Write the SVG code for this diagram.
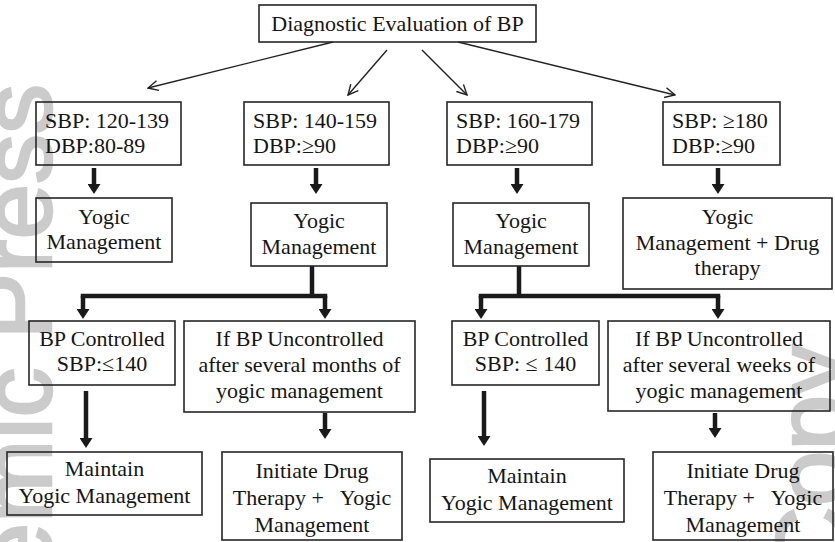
<svg xmlns="http://www.w3.org/2000/svg" width="835" height="542" viewBox="0 0 835 542">
<style>
.box{fill:none;stroke:#262626;stroke-width:1.6}
.t{font-size:22px;fill:#151515}
.c{text-anchor:middle}
.pre{white-space:pre}
.thin{stroke:#222;stroke-width:1.4;fill:none;marker-end:url(#open)}
.heavy{stroke:#1a1a1a;stroke-width:4.5;fill:none}
.arr{marker-end:url(#head)}
.wm{font-size:100px;fill:#cbcbcb;stroke:#cbcbcb;stroke-width:2.5}
</style>
<defs>
<marker id="open" viewBox="0 0 12 12" refX="11" refY="6" markerWidth="12" markerHeight="12" markerUnits="userSpaceOnUse" orient="auto">
<path d="M1,1 L11,6 L1,11" fill="none" stroke="#222" stroke-width="1.4"/>
</marker>
<marker id="head" viewBox="0 0 10 13" refX="0" refY="6.5" markerWidth="10" markerHeight="13" markerUnits="userSpaceOnUse" orient="auto">
<path d="M0,0 L10,6.5 L0,13 z" fill="#1a1a1a"/>
</marker>
</defs>
<rect width="835" height="542" fill="#fff"/>
<g id="watermark" font-family="Liberation Sans, Arial, sans-serif">
<text class="wm" transform="translate(51,84) rotate(-90)" text-anchor="end">Academic Press</text>
<text class="wm" transform="translate(846,345) rotate(-90)" text-anchor="end">Copy</text>
</g>
<g id="connectors">
<path class="thin" d="M333,42 L148,88"/>
<path class="thin" d="M387,50 L348,95"/>
<path class="thin" d="M422,50 L467,95"/>
<path class="thin" d="M458,42 L675,95"/>
<path class="heavy arr" d="M94,168 V184"/>
<path class="heavy arr" d="M316,168 V184"/>
<path class="heavy arr" d="M517,168 V184"/>
<path class="heavy arr" d="M718,168 V184"/>
<path class="heavy" d="M312,266 V296"/>
<path class="heavy" stroke-linecap="square" d="M83,296 H325"/>
<path class="heavy arr" d="M83,296 V309"/>
<path class="heavy arr" d="M325,296 V309"/>
<path class="heavy" d="M519,266 V296"/>
<path class="heavy" stroke-linecap="square" d="M481,296 H718"/>
<path class="heavy arr" d="M481,296 V309"/>
<path class="heavy arr" d="M718,296 V309"/>
<path class="heavy arr" d="M86,391 V438"/>
<path class="heavy arr" d="M325,413 V429"/>
<path class="heavy arr" d="M484,391 V436"/>
<path class="heavy arr" d="M715,413 V428"/>
</g>
<g font-family="Liberation Serif, Times New Roman, Noto Serif, DejaVu Serif, serif">
<g id="n-top">
<rect class="box" x="259" y="5" width="277" height="37"/>
<text class="t c" x="397.5" y="31">Diagnostic Evaluation of BP</text>
</g>
<g id="n-r1a">
<rect class="box" x="36" y="102" width="145" height="63"/>
<text class="t" x="45" y="128">SBP: 120-139</text>
<text class="t" x="45" y="153">DBP:80-89</text>
</g>
<g id="n-r1b">
<rect class="box" x="244" y="102" width="145" height="63"/>
<text class="t" x="253" y="128">SBP: 140-159</text>
<text class="t" x="253" y="153">DBP:≥90</text>
</g>
<g id="n-r1c">
<rect class="box" x="447" y="102" width="145" height="63"/>
<text class="t" x="456" y="128">SBP: 160-179</text>
<text class="t" x="456" y="153">DBP:≥90</text>
</g>
<g id="n-r1d">
<rect class="box" x="663" y="102" width="117" height="63"/>
<text class="t" x="672" y="128">SBP: ≥180</text>
<text class="t" x="672" y="153">DBP:≥90</text>
</g>
<g id="n-r2a">
<rect class="box" x="36" y="198" width="136" height="64"/>
<text class="t c" x="104" y="224">Yogic</text>
<text class="t c" x="104" y="249">Management</text>
</g>
<g id="n-r2b">
<rect class="box" x="251" y="203" width="136" height="63"/>
<text class="t c" x="319" y="228">Yogic</text>
<text class="t c" x="319" y="254">Management</text>
</g>
<g id="n-r2c">
<rect class="box" x="453" y="203" width="136" height="63"/>
<text class="t c" x="521" y="228">Yogic</text>
<text class="t c" x="521" y="254">Management</text>
</g>
<g id="n-r2d">
<rect class="box" x="623" y="198" width="209" height="91"/>
<text class="t c" x="727.5" y="224">Yogic</text>
<text class="t c" x="727.5" y="250">Management + Drug</text>
<text class="t c" x="727.5" y="275">therapy</text>
</g>
<g id="n-r3a">
<rect class="box" x="29" y="321" width="146" height="64"/>
<text class="t c" x="102" y="346">BP Controlled</text>
<text class="t c" x="102" y="371">SBP:≤140</text>
</g>
<g id="n-r3b">
<rect class="box" x="184" y="321" width="231" height="91"/>
<text class="t c" x="299.5" y="346">If BP Uncontrolled</text>
<text class="t c" x="299.5" y="372">after several months of</text>
<text class="t c" x="299.5" y="398">yogic management</text>
</g>
<g id="n-r3c">
<rect class="box" x="452" y="321" width="147" height="64"/>
<text class="t c" x="525.5" y="346">BP Controlled</text>
<text class="t c" x="525.5" y="371">SBP: ≤ 140</text>
</g>
<g id="n-r3d">
<rect class="box" x="608" y="321" width="222" height="90"/>
<text class="t c" x="719" y="346">If BP Uncontrolled</text>
<text class="t c" x="719" y="372">after several weeks of</text>
<text class="t c" x="719" y="398">yogic management</text>
</g>
<g id="n-r4a">
<rect class="box" x="7" y="452" width="195" height="63"/>
<text class="t c" x="104.5" y="476">Maintain</text>
<text class="t c" x="104.5" y="503">Yogic Management</text>
</g>
<g id="n-r4b">
<rect class="box" x="222" y="452" width="180" height="88"/>
<text class="t c" x="312" y="478">Initiate Drug</text>
<text class="t c pre" x="312" y="505">Therapy +   Yogic</text>
<text class="t c" x="312" y="532">Management</text>
</g>
<g id="n-r4c">
<rect class="box" x="430" y="459" width="194" height="63"/>
<text class="t c" x="527" y="483">Maintain</text>
<text class="t c" x="527" y="510">Yogic Management</text>
</g>
<g id="n-r4d">
<rect class="box" x="653" y="452" width="180" height="88"/>
<text class="t c" x="743" y="478">Initiate Drug</text>
<text class="t c pre" x="743" y="505">Therapy +   Yogic</text>
<text class="t c" x="743" y="532">Management</text>
</g>
</g>
</svg>
